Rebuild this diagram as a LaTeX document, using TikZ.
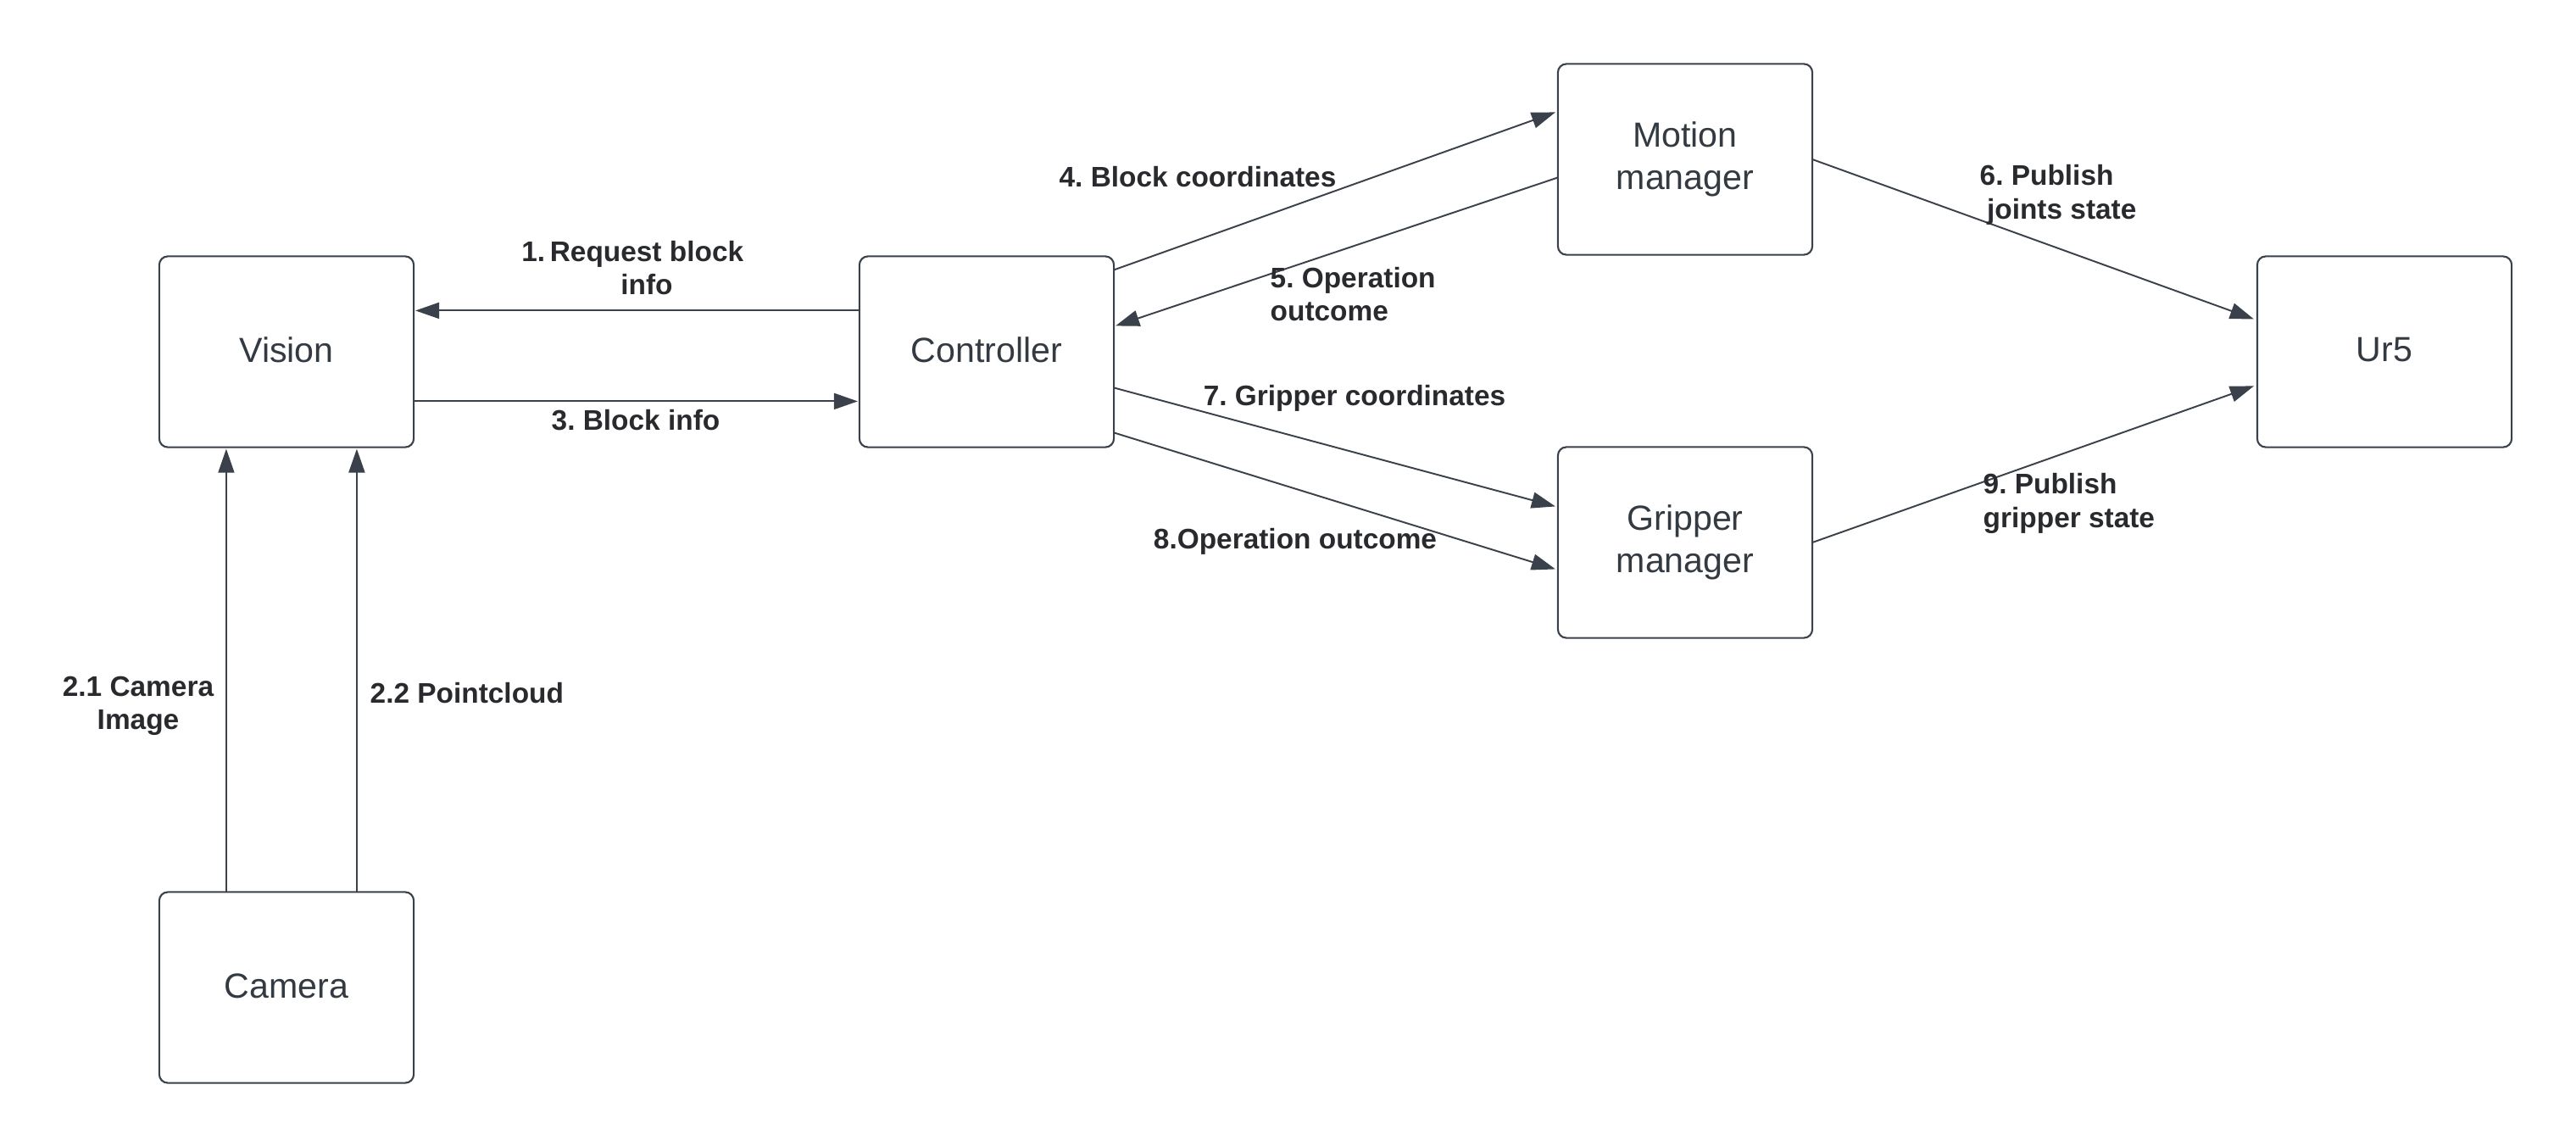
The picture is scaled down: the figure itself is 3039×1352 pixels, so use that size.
\documentclass[tikz,border=0pt]{standalone}
\usepackage{fontspec}
\setmainfont{Liberation Sans}
\usetikzlibrary{arrows.meta,calc}
\definecolor{edge}{RGB}{58,65,74}
\definecolor{ink}{RGB}{52,58,66}
\definecolor{lblink}{RGB}{40,42,46}
\frenchspacing
\begin{document}
\begin{tikzpicture}[x=0.01cm,y=-0.01cm,
  box/.style={draw=edge,line width=0.6pt,rounded corners=0.1cm,minimum width=3.0cm,minimum height=2.25cm,
    inner sep=0pt,outer sep=0pt,align=center,text=ink,font=\fontsize{11.7}{14.4}\selectfont},
  arr/.style={draw=edge,line width=0.55pt,-{Triangle[length=0.28cm,width=0.19cm]}},
  thinarr/.style={arr,line width=0.35pt},
  lbl/.style={text=lblink,font=\fontsize{9.5}{11.3}\selectfont\bfseries,inner sep=0pt}]
\useasboundingbox (0,0) rectangle (3039,1352);
\node[box] (vis) at (338,415) {\raisebox{0.05cm}{Vision}};
\node[box] (ctrl) at (1164,415) {\raisebox{0.05cm}{Controller}};
\node[box] (mot) at (1988,188) {Motion\\manager};
\node[box] (grip) at (1988,640) {Gripper\\manager};
\node[box] (ur) at (2813,415) {\raisebox{0.05cm}{Ur5}};
\node[box] (cam) at (338,1165) {\raisebox{0.03cm}{Camera}};
% connectors
\draw[arr] ($(ctrl.north west)+(0,64)$) -- ($(vis.north east)+(2,64)$);
\draw[arr] ($(vis.north east)+(0,171)$) -- ($(ctrl.north west)+(-2,171)$);
\draw[arr] ($(ctrl.north east)+(0,16)$) -- ($(mot.north west)+(-3,57)$);
\draw[arr] ($(mot.north west)+(0,134)$) -- ($(ctrl.north east)+(2,82)$);
\draw[arr] (mot.east) -- ($(ur.north west)+(-4,74)$);
\draw[arr] ($(ctrl.north east)+(0,155)$) -- ($(grip.north west)+(-3,70)$);
\draw[arr] ($(ctrl.north east)+(0,208)$) -- ($(grip.north west)+(-3,144)$);
\draw[arr] (grip.east) -- ($(ur.north west)+(-4,153)$);
\draw[thinarr] ($(cam.north west)+(79,0)$) -- ($(vis.south west)+(79,2)$);
\draw[arr] ($(cam.north west)+(233,0)$) -- ($(vis.south west)+(233,2)$);
% labels
\node[lbl,align=center] (l1) at (763,316) {\llap{1.\,}Request block\\info};
\node[lbl] (l3) at (750,496) {3. Block info};
\node[lbl] (l4) at (1413,209) {4. Block coordinates};
\node[lbl,align=left,anchor=west] (l5) at (1498,347) {5. Operation\\outcome};
\node[lbl,align=left,anchor=west] (l6) at (2335,230) {6. Publish\\\hspace*{0.25em}joints state};
\node[lbl] (l7) at (1598,470) {7. Gripper coordinates};
\node[lbl] (l8) at (1528,639) {8.Operation outcome};
\node[lbl,align=left,anchor=west] (l9) at (2339,594) {9. Publish\\gripper state};
\node[lbl,align=center] (l21) at (163,833) {2.1 Camera\\Image};
\node[lbl,anchor=west] (l22) at (436,818) {2.2 Pointcloud};
\end{tikzpicture}
\end{document}
